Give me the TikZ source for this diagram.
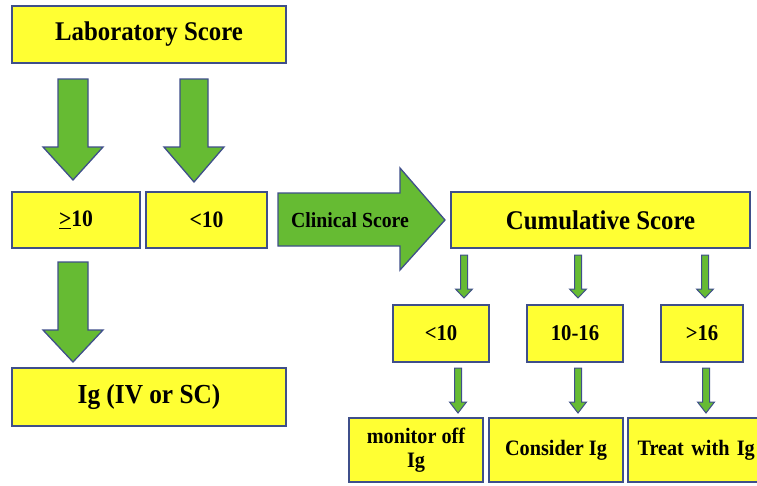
\documentclass[tikz,border=0pt]{standalone}
\usepackage{fontspec}
\setmainfont[FakeStretch=0.92]{Liberation Serif}
\definecolor{boxyellow}{HTML}{FFFF33}
\definecolor{arrgreen}{HTML}{66BB33}
\definecolor{edgeblue}{HTML}{3F4F8A}
\tikzset{
  box/.style={draw=edgeblue, line width=1.4pt, fill=boxyellow, inner sep=0pt, align=center, font=\bfseries},
  blockarrow/.style={draw=edgeblue, line width=1.3pt, fill=arrgreen, line join=miter},
  smallarrow/.style={draw=edgeblue, line width=1pt, fill=arrgreen, line join=miter}
}
% down block arrow: x, top, head base, tip, shaft half, head half, style
\newcommand\downarrowshape[7]{%
  \draw[#7] (#1-#5,#2) -- (#1+#5,#2) -- (#1+#5,#3) -- (#1+#6,#3) -- (#1,#4)
    -- (#1-#6,#3) -- (#1-#5,#3) -- cycle;}
\begin{document}
\begin{tikzpicture}[x=1pt,y=-1pt]
\useasboundingbox (0,0) rectangle (757,485);
\begin{scope}
\clip (0,0) rectangle (757,485);
% boxes
\node[box, minimum width=274pt, minimum height=57pt, font=\bfseries\fontsize{27}{30}\selectfont] (lab) at (149,34.5) {Laboratory Score};
\node[box, minimum width=128pt, minimum height=56pt, font=\bfseries\fontsize{23.5}{26}\selectfont] (ge) at (76,220) {\underline{>}10};
\node[box, minimum width=121pt, minimum height=56pt, font=\bfseries\fontsize{23.5}{26}\selectfont] (lta) at (206.5,220) {<10};
\node[box, minimum width=274pt, minimum height=58pt, font=\bfseries\fontsize{27.5}{30}\selectfont] (ig) at (149,397) {Ig (IV or SC)};
\node[box, minimum width=299pt, minimum height=56pt, font=\bfseries\fontsize{27}{30}\selectfont] (cum) at (600.5,220) {Cumulative Score};
\node[box, minimum width=96pt, minimum height=57pt, font=\bfseries\fontsize{22.5}{25}\selectfont] (ltb) at (441,333.5) {<10};
\node[box, minimum width=96pt, minimum height=57pt, font=\bfseries\fontsize{22.5}{25}\selectfont] (mid) at (575,333.5) {10-16};
\node[box, minimum width=82pt, minimum height=57pt, font=\bfseries\fontsize{22.5}{25}\selectfont] (gt) at (702,333.5) {>16};
\node[box, minimum width=134pt, minimum height=64pt, font=\bfseries\fontsize{22}{24}\selectfont] (mon) at (416,450) {monitor off\\Ig};
\node[box, minimum width=134pt, minimum height=64pt, font=\bfseries\fontsize{22}{24}\selectfont] (con) at (556,450) {Consider Ig};
\node[box, minimum width=140pt, minimum height=64pt, font=\bfseries\fontsize{22}{24}\selectfont, text width=140pt, align=left] (tre) at (698,450) {\hspace*{9.5pt}Treat with Ig};
% big arrows
\downarrowshape{73}{79}{147}{180}{15}{30}{blockarrow}
\downarrowshape{194}{79}{147}{182}{14}{30}{blockarrow}
\downarrowshape{73}{262}{330}{362}{15}{30}{blockarrow}
% clinical score arrow
\draw[blockarrow] (278,193) -- (400,193) -- (400,168) -- (445,220) -- (400,270) -- (400,246) -- (278,246) -- cycle;
\node[font=\bfseries\fontsize{21.5}{24}\selectfont, inner sep=0pt] (clin) at (350,220) {Clinical Score};
% small arrows
\downarrowshape{464}{255}{289}{298}{3.5}{8.5}{smallarrow}
\downarrowshape{578}{255}{289}{298}{3.5}{8.5}{smallarrow}
\downarrowshape{705}{255}{289}{298}{3.5}{8.5}{smallarrow}
\downarrowshape{458}{368}{402}{413}{3.5}{8.5}{smallarrow}
\downarrowshape{578}{368}{402}{413}{3.5}{8.5}{smallarrow}
\downarrowshape{706}{368}{402}{413}{3.5}{8.5}{smallarrow}
\end{scope}
\end{tikzpicture}
\end{document}
